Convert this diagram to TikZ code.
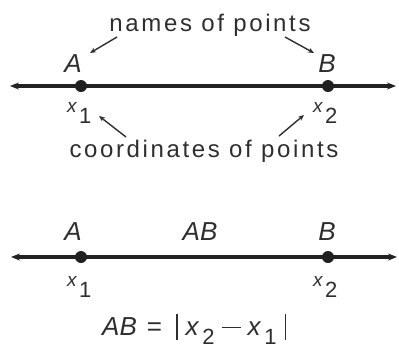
\documentclass[tikz,border=0pt]{standalone}
\usepackage{fontspec}
\setmainfont{Liberation Sans}
\usetikzlibrary{arrows.meta}
\definecolor{ink}{gray}{0.18}
\newcommand{\xsub}[1]{{\fontsize{19}{19}\selectfont\itshape x}\kern2.5pt\raisebox{-11pt}{\fontsize{22}{22}\selectfont #1}}
\newcommand{\absbar}{\raisebox{-5pt}{\rule{1.5pt}{26pt}}}
\newcommand{\minusbar}{\raisebox{7pt}{\rule{19pt}{1.5pt}}}
\begin{document}
\begin{tikzpicture}[x=1pt,y=-1pt,
  numline/.style={line width=3.2pt,draw=ink!75!black,{Stealth[length=9pt,width=7pt]}-{Stealth[length=9pt,width=7pt]}},
  dot/.style={circle,fill=ink!70!black,inner sep=0pt,minimum size=12pt},
  lbl/.style={inner sep=0pt,anchor=base,text=ink,font=\fontsize{24}{24}\selectfont\addfontfeature{LetterSpace=11}},
  ptname/.style={inner sep=0pt,anchor=base,text=ink,font=\fontsize{26}{26}\selectfont\itshape},
  coordlbl/.style={inner sep=0pt,anchor=base west,text=ink},
  pointer/.style={line width=1.4pt,draw=ink,-{Stealth[length=6pt,width=5pt]}}]
\useasboundingbox (0,0) rectangle (399,349);
% top number line
\coordinate (L1) at (10,86);
\coordinate (R1) at (396,86);
\draw[numline] (L1) -- (R1);
\node[dot] (pA1) at (81,86) {};
\node[dot] (pB1) at (328,86) {};
\node[lbl] (names) at (210,31) {names of points};
\node[ptname] (A1) at (73,72) {A};
\node[ptname] (B1) at (327,72) {B};
\coordinate (na) at (117,37);
\coordinate (nat) at (90,53);
\coordinate (nb) at (285,37);
\coordinate (nbt) at (314,53);
\draw[pointer] (na) -- (nat);
\draw[pointer] (nb) -- (nbt);
\node[coordlbl] (x11) at (67,112) {\xsub{1}};
\node[coordlbl] (x21) at (313,112) {\xsub{2}};
\node[lbl] (coords) at (204,157) {coordinates of points};
\coordinate (ca) at (126,137);
\coordinate (cat) at (99,116);
\coordinate (cb) at (279,136);
\coordinate (cbt) at (304,115);
\draw[pointer] (ca) -- (cat);
\draw[pointer] (cb) -- (cbt);
% bottom number line
\coordinate (L2) at (11,257);
\coordinate (R2) at (397,257);
\draw[numline] (L2) -- (R2);
\node[dot] (pA2) at (81,257) {};
\node[dot] (pB2) at (328,257) {};
\node[ptname] (A2) at (73,240) {A};
\node[ptname] (AB) at (200,240) {AB};
\node[ptname] (B2) at (327,240) {B};
\node[coordlbl] (x12) at (67,286) {\xsub{1}};
\node[coordlbl] (x22) at (313,286) {\xsub{2}};
\node[inner sep=0pt,anchor=base west,text=ink,font=\fontsize{26}{26}\selectfont] (formula) at (102,335)
  {\textit{AB}\hspace{10pt}=\hspace{14pt}\absbar\hspace{8pt}\textit{x}\kern3pt\raisebox{-9pt}{\fontsize{22}{22}\selectfont 2}\hspace{7pt}\minusbar\hspace{7pt}\textit{x}\kern3pt\raisebox{-9pt}{\fontsize{22}{22}\selectfont 1}\hspace{8pt}\absbar};
\end{tikzpicture}
\end{document}
